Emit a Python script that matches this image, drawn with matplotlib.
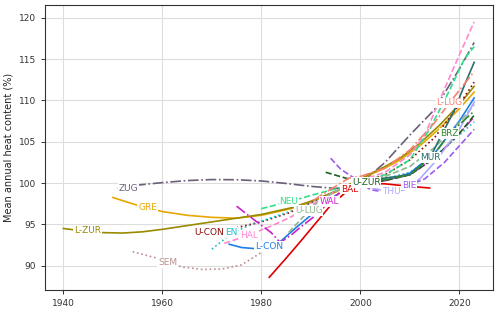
import matplotlib
matplotlib.use("Agg")
import matplotlib.pyplot as plt

# -------------------------------
# Data
# -------------------------------
zug_years = [1951, 1955, 1960, 1965, 1970, 1975, 1980, 1985, 1990, 1995, 1998, 2000, 2005, 2010, 2015, 2020, 2023]
zug_vals = [99.35, 99.75, 100.05, 100.3, 100.42, 100.4, 100.25, 99.95, 99.6, 99.35, 99.5, 99.9, 102.5, 105.8, 108.9, 113.8, 117.0]

gre_years = [1950, 1955, 1960, 1965, 1970, 1975, 1980, 1986, 1990, 1995, 2000, 2005, 2008, 2012, 2016, 2020, 2023]
gre_vals = [98.25, 97.3, 96.55, 96.1, 95.85, 95.75, 96.1, 96.9, 97.7, 98.9, 100.5, 101.8, 102.8, 104.5, 106.6, 109.0, 111.0]

lzur_years = [1940, 1944, 1948, 1952, 1956, 1960, 1965, 1970, 1975, 1980, 1986, 1990, 1995, 2000, 2005, 2008, 2012, 2016, 2020, 2023]
lzur_vals = [94.5, 94.2, 94.0, 93.95, 94.1, 94.4, 94.85, 95.3, 95.75, 96.2, 97.0, 97.8, 99.0, 100.5, 102.0, 103.0, 104.8, 107.0, 109.5, 111.7]

sem_years = [1954, 1959, 1961, 1964, 1968, 1972, 1976, 1980]
sem_vals = [91.7, 90.9, 90.36, 89.85, 89.55, 89.6, 90.1, 91.6]

ucon_years = [1968, 1970, 1975, 1980, 1985.6, 1990, 1995, 2000, 2005, 2010, 2015, 2020, 2023]
ucon_vals = [93.7, 94.0, 94.6, 95.3, 96.4, 97.6, 99.0, 100.1, 101.0, 102.8, 105.5, 109.5, 112.2]

en_years = [1970, 1974, 1978, 1982, 1986, 1990, 1995, 2000, 2005, 2010, 2015, 2020, 2023]
en_vals = [92.0, 93.9, 95.0, 95.8, 96.6, 97.6, 99.0, 100.3, 100.5, 101.3, 103.2, 105.8, 107.4]

hal_years = [1972.5, 1977.5, 1982, 1986, 1990, 1995, 2000, 2005, 2010, 2013, 2016, 2020, 2023]
hal_vals = [92.7, 93.7, 94.8, 95.9, 97.3, 99.0, 100.3, 101.3, 103.4, 105.8, 110.0, 115.5, 119.5]

lcon_years = [1973.5, 1976, 1979, 1981.5, 1984, 1987, 1989.6, 1992, 1995, 2000, 2005, 2010, 2015, 2020, 2023]
lcon_vals = [92.6, 92.2, 92.05, 92.3, 93.0, 94.6, 95.9, 97.2, 98.5, 100.0, 100.3, 101.2, 103.6, 107.5, 110.3]

neu_years = [1980, 1982, 1985.6, 1990, 1995, 2000, 2005, 2010, 2014, 2018, 2021, 2023]
neu_vals = [96.9, 97.2, 97.74, 98.5, 99.3, 100.1, 101.0, 102.8, 106.5, 111.2, 115.0, 116.5]

ulug_years = [1985.5, 1988.6, 1989.6, 1992, 1995, 2000, 2005, 2010, 2015, 2020, 2023]
ulug_vals = [94.0, 96.0, 96.7, 98.0, 99.0, 100.2, 100.8, 102.0, 104.3, 107.3, 109.5]

wal_years = [1975, 1978, 1982, 1983.8, 1986, 1988, 1991, 1993.7, 1996.5, 2000, 2005, 2010, 2015, 2020, 2023]
wal_vals = [97.2, 95.8, 94.0, 92.8, 93.7, 94.7, 96.1, 97.74, 99.2, 100.2, 100.3, 101.0, 103.0, 106.0, 108.0]

bal_years = [1981.6, 1985, 1988, 1991.2, 1994, 1997.8, 2000, 2005, 2010, 2014]
bal_vals = [88.6, 90.9, 93.0, 95.3, 97.3, 99.25, 100.0, 99.9, 99.6, 99.4]

uzur_years = [1993, 1997, 2001.2, 2005, 2010, 2015, 2020, 2023]
uzur_vals = [101.3, 100.6, 100.04, 100.3, 101.0, 103.0, 106.0, 108.2]

thu_years = [2000, 2003, 2006.2, 2009, 2012, 2015, 2020, 2023]
thu_vals = [100.0, 99.3, 98.95, 99.2, 100.5, 102.5, 106.5, 109.8]

bie_years = [1994, 1996, 1999, 2002, 2005, 2008, 2009.9, 2013, 2017, 2020, 2023]
bie_vals = [103.0, 101.7, 100.5, 99.2, 98.9, 99.3, 99.76, 100.5, 102.5, 104.5, 106.5]

mur_years = [2000, 2005, 2010, 2014.1, 2017, 2019, 2021, 2023]
mur_vals = [100.3, 100.6, 101.0, 103.1, 106.5, 108.8, 111.8, 114.6]

brz_years = [2000, 2005, 2010, 2015, 2018, 2023]
brz_vals = [100.5, 100.4, 101.0, 103.5, 106.0, 108.7]

llug_years = [1987.6, 1992, 1997.7, 2000, 2005, 2010, 2015, 2018, 2023]
llug_vals = [96.6, 98.5, 100.6, 100.8, 101.8, 104.0, 107.3, 109.7, 113.5]

# name, years, values, colour, linestyle, label position (year, value)
lakes = [
    ("ZUG", zug_years, zug_vals, "#6b5f7a", "-.", 1953.1, 99.36),
    ("GRE", gre_years, gre_vals, "#e6a700", "-", 1957.0, 97.06),
    ("L-ZUR", lzur_years, lzur_vals, "#998a00", "-", 1944.9, 94.2),
    ("SEM", sem_years, sem_vals, "#bc8f8f", ":", 1961.1, 90.36),
    ("U-CON", ucon_years, ucon_vals, "#8b0a0a", ":", 1969.4, 94.0),
    ("EN", en_years, en_vals, "#1fbfcf", ":", 1973.9, 94.0),
    ("HAL", hal_years, hal_vals, "#ff88d0", "--", 1977.5, 93.7),
    ("L-CON", lcon_years, lcon_vals, "#1e7fe8", "-", 1981.5, 92.3),
    ("NEU", neu_years, neu_vals, "#2fe08a", "--", 1985.6, 97.74),
    ("U-LUG", ulug_years, ulug_vals, "#8fb88f", "--", 1989.6, 96.7),
    ("WAL", wal_years, wal_vals, "#cc22cc", "-.", 1993.7, 97.74),
    ("BAL", bal_years, bal_vals, "#e00000", "-", 1997.8, 99.25),
    ("U-ZUR", uzur_years, uzur_vals, "#1f5f1f", "--", 2001.2, 100.04),
    ("THU", thu_years, thu_vals, "#b0a8ff", "-", 2006.2, 98.95),
    ("BIE", bie_years, bie_vals, "#9d5cf0", "--", 2009.9, 99.76),
    ("MUR", mur_years, mur_vals, "#2a6f6f", "-", 2014.1, 103.1),
    ("BRZ", brz_years, brz_vals, "#2e8b2e", "-.", 2018.0, 106.0),
    ("L-LUG", llug_years, llug_vals, "#fa8072", "-.", 2018.0, 109.7),
]

# -------------------------------
# Plot
# -------------------------------
fig = plt.figure(figsize=(5, 3.11), dpi=100)
ax = fig.add_axes([0.09, 0.0675, 0.896, 0.9165])

for name, yrs, vals, col, ls, lx, ly in lakes:
    ax.plot(yrs, vals, color=col, linestyle=ls, linewidth=1.2)

for name, yrs, vals, col, ls, lx, ly in lakes:
    ax.text(lx, ly, name, color=col, fontsize=6.5, ha="center", va="center",
            bbox=dict(boxstyle="square,pad=0.08", fc="white", ec="none"), zorder=5)

ax.set_xlim(1936.3, 2026.8)
ax.set_ylim(87.06, 121.54)
ax.set_xticks([1940, 1960, 1980, 2000, 2020])
ax.set_yticks([90, 95, 100, 105, 110, 115, 120])
ax.tick_params(labelsize=6.5, length=3, width=0.7, colors="#333333")
ax.grid(True, color="#dddddd", linewidth=0.8)
ax.set_axisbelow(True)
for sp in ax.spines.values():
    sp.set_color("#333333")
    sp.set_linewidth(0.8)
ax.set_ylabel("Mean annual heat content (%)", fontsize=7, color="#222222")

fig.savefig("out.png", dpi=100)
